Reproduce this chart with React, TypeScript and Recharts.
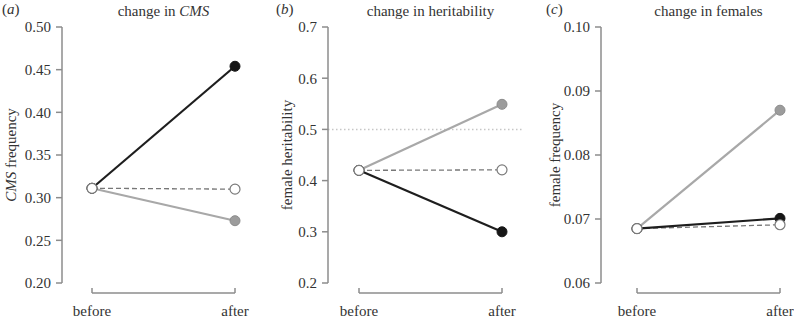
import React from 'react';
import { LineChart, Line, XAxis, YAxis, ReferenceLine, Label } from 'recharts';

const stages = ['before', 'after'];

// (a) change in CMS
const cmsBlack = [0.311, 0.454];
const cmsGrey = [0.311, 0.273];
const cmsWhite = [0.311, 0.310];
const cmsTicks = [0.2, 0.25, 0.3, 0.35, 0.4, 0.45, 0.5];

// (b) change in heritability
const herBlack = [0.42, 0.3];
const herGrey = [0.42, 0.549];
const herWhite = [0.42, 0.421];
const herTicks = [0.2, 0.3, 0.4, 0.5, 0.6, 0.7];
const herThreshold = 0.5;

// (c) change in females
const femBlack = [0.0685, 0.0701];
const femGrey = [0.0685, 0.087];
const femWhite = [0.0685, 0.0691];
const femTicks = [0.06, 0.07, 0.08, 0.09, 0.1];

const FONT = '"Liberation Serif", "Times New Roman", serif';
const AXIS = '#8c8c8c';
const TOP = 27;
const BOTTOM = 283;
const H = 319;

const buildRows = (black: number[], grey: number[], white: number[]) =>
  stages.map((stage, i) => ({ stage, black: black[i], grey: grey[i], white: white[i] }));

interface PanelProps {
  letter: string;
  letterX: number;
  title: React.ReactNode;
  yLabel: React.ReactNode;
  rows: any[];
  ticks: number[];
  decimals: number;
  axisX: number;
  beforeX: number;
  afterX: number;
  rightX: number;
  labelX: number;
  threshold?: number;
}

const XTick = ({ x, y, payload }: any) => (
  <text x={x} y={y + 33} textAnchor="middle" fontFamily={FONT} fontSize={15} fill="#333">
    {payload.value}
  </text>
);

const Panel: React.FC<PanelProps> = ({
  letter, letterX, title, yLabel, rows, ticks, decimals, axisX, beforeX, afterX, rightX, labelX, threshold
}) => {
  const left = axisX - 62;
  const width = rightX - left;
  const lo = ticks[0];
  const hi = ticks[ticks.length - 1];
  const unit = (hi - lo) / (BOTTOM - TOP);
  const bracketY = lo - unit * 10;
  const tipY = lo - unit * 5;
  const mid = (beforeX + afterX) / 2;

  return (
    <>
      <div style={{ position: 'absolute', left: letterX, top: 2, fontFamily: FONT, fontSize: 15, color: '#333', lineHeight: '15px' }}>
        (<i>{letter}</i>)
      </div>
      <div style={{ position: 'absolute', left: mid - 120, width: 240, top: 4, textAlign: 'center', fontFamily: FONT, fontSize: 15, color: '#333', lineHeight: '15px' }}>
        {title}
      </div>
      <div style={{ position: 'absolute', left, top: 0 }}>
        <LineChart width={width} height={H} data={rows} margin={{ top: TOP, right: 0, bottom: 0, left: 0 }}>
          <XAxis
            dataKey="stage"
            height={H - BOTTOM}
            padding={{ left: beforeX - axisX, right: rightX - afterX }}
            axisLine={false}
            tickLine={false}
            tickSize={0}
            tickMargin={0}
            tick={<XTick />}
            interval={0}
          />
          <YAxis
            width={62}
            domain={[lo, hi]}
            ticks={ticks}
            interval={0}
            tickFormatter={(v: number) => v.toFixed(decimals)}
            axisLine={{ stroke: AXIS, strokeWidth: 1.5 }}
            tickLine={{ stroke: AXIS, strokeWidth: 1.5 }}
            tickSize={6}
            tickMargin={5}
            tick={{ fontFamily: FONT, fontSize: 15, fill: '#333' }}
          >
            <Label
              content={({ viewBox }: any) => {
                const cx = viewBox.x + labelX;
                const cy = viewBox.y + viewBox.height / 2;
                return (
                  <text
                    x={cx}
                    y={cy}
                    transform={`rotate(-90 ${cx} ${cy})`}
                    textAnchor="middle"
                    dominantBaseline="central"
                    fontFamily={FONT}
                    fontSize={15}
                    fill="#333"
                  >
                    {yLabel}
                  </text>
                );
              }}
            />
          </YAxis>
          {threshold !== undefined && (
            <ReferenceLine y={threshold} stroke="#c6c6c6" strokeWidth={1.5} strokeDasharray="1.5 2.5" />
          )}
          <ReferenceLine
            segment={[{ x: 'before', y: bracketY }, { x: 'after', y: bracketY }]}
            stroke={AXIS}
            strokeWidth={1.5}
            ifOverflow="visible"
          />
          <ReferenceLine
            segment={[{ x: 'before', y: bracketY }, { x: 'before', y: tipY }]}
            stroke={AXIS}
            strokeWidth={1.5}
            ifOverflow="visible"
          />
          <ReferenceLine
            segment={[{ x: 'after', y: bracketY }, { x: 'after', y: tipY }]}
            stroke={AXIS}
            strokeWidth={1.5}
            ifOverflow="visible"
          />
          <Line
            dataKey="grey"
            stroke="#a8a8a8"
            strokeWidth={2.2}
            dot={{ r: 5, fill: '#9c9c9c', stroke: '#8c8c8c', strokeWidth: 1 }}
            activeDot={false}
            isAnimationActive={false}
          />
          <Line
            dataKey="white"
            stroke="#777"
            strokeWidth={1.3}
            strokeDasharray="5 3"
            dot={false}
            activeDot={false}
            isAnimationActive={false}
          />
          <Line
            dataKey="black"
            stroke="#1e1e1e"
            strokeWidth={2.2}
            dot={{ r: 5, fill: '#161616', stroke: '#161616', strokeWidth: 1 }}
            activeDot={false}
            isAnimationActive={false}
          />
          <Line
            dataKey="white"
            stroke="none"
            dot={{ r: 5, fill: '#fff', stroke: '#7a7a7a', strokeWidth: 1.2 }}
            activeDot={false}
            isAnimationActive={false}
          />
        </LineChart>
      </div>
    </>
  );
};

export default function App() {
  return (
    <div style={{ position: 'absolute', left: 0, top: 0, width: 794, height: 319, background: '#fff', overflow: 'hidden' }}>
      <Panel
        letter="a"
        letterX={2}
        title={<>change in <i>CMS</i></>}
        yLabel={<><tspan fontStyle="italic">CMS</tspan> frequency</>}
        rows={buildRows(cmsBlack, cmsGrey, cmsWhite)}
        ticks={cmsTicks}
        decimals={2}
        axisX={62}
        beforeX={92}
        afterX={235}
        rightX={250}
        labelX={11}
      />
      <Panel
        letter="b"
        letterX={276}
        title="change in heritability"
        yLabel="female heritability"
        rows={buildRows(herBlack, herGrey, herWhite)}
        ticks={herTicks}
        decimals={1}
        axisX={328}
        beforeX={359}
        afterX={502}
        rightX={524}
        labelX={21}
        threshold={herThreshold}
      />
      <Panel
        letter="c"
        letterX={546}
        title="change in females"
        yLabel="female frequency"
        rows={buildRows(femBlack, femGrey, femWhite)}
        ticks={femTicks}
        decimals={2}
        axisX={601}
        beforeX={637}
        afterX={780}
        rightX={800}
        labelX={16}
      />
    </div>
  );
}
